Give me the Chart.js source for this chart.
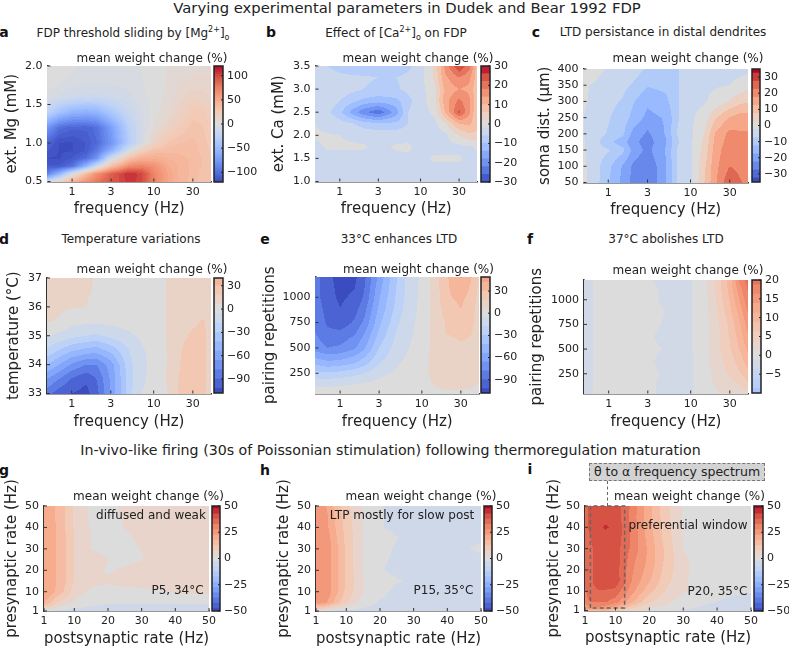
<!DOCTYPE html>
<html lang="en">
<head>
  <meta charset="UTF-8" />
  <title>Varying experimental parameters in Dudek and Bear 1992 FDP</title>
  <script src="https://cdn.jsdelivr.net/npm/chart.js"></script>
  <style>
    html, body { margin: 0; padding: 0; background: #fff; }
    body { width: 789px; height: 647px; position: relative; overflow: hidden; font-family: 'DejaVu Sans', sans-serif; color: #222; }
    canvas { position: absolute; }
    .t { position: absolute; transform: translate(-50%, -50%); white-space: nowrap; line-height: 1; }
    .letter { font-weight: bold; font-size: 14px; color: #111; }
    .ptitle { font-size: 12px; }
    .cbtitle { font-size: 12px; }
    .note { font-size: 12px; }
    sup, sub { font-size: 8px; line-height: 0; }
    #thetaBox { position: absolute; left: 589px; top: 463px; width: 174px; height: 16px; background: #d3d3d3; border: 1px dashed #777; font-size: 12.5px; text-align: center; line-height: 16px; white-space: nowrap; }
    #thetaLine { position: absolute; left: 607px; top: 481px; height: 25px; border-left: 1.5px dashed #666; }
  </style>
</head>
<body>
  <div class="t" style="left:407px;top:8px;font-size:14.8px">Varying experimental parameters in Dudek and Bear 1992 FDP</div>
  <div class="t" style="left:390.5px;top:450px;font-size:14.2px">In-vivo-like firing (30s of Poissonian stimulation) following thermoregulation maturation</div>

  <div class="t ptitle" style="left:133px;top:33px">FDP threshold sliding by [Mg<sup>2+</sup>]<sub>o</sub></div>
  <div class="t ptitle" style="left:396px;top:33px">Effect of [Ca<sup>2+</sup>]<sub>o</sub> on FDP</div>
  <div class="t ptitle" style="left:663px;top:32px">LTD persistance in distal dendrites</div>
  <div class="t ptitle" style="left:131px;top:239px">Temperature variations</div>
  <div class="t ptitle" style="left:399px;top:239px">33°C enhances LTD</div>
  <div class="t ptitle" style="left:666px;top:239px">37°C abolishes LTD</div>

  <div class="t letter" style="left:4px;top:32px">a</div>
  <div class="t letter" style="left:271px;top:32px">b</div>
  <div class="t letter" style="left:536px;top:32px">c</div>
  <div class="t letter" style="left:4px;top:239px">d</div>
  <div class="t letter" style="left:265px;top:239px">e</div>
  <div class="t letter" style="left:530px;top:239px">f</div>
  <div class="t letter" style="left:4px;top:470px">g</div>
  <div class="t letter" style="left:265px;top:470px">h</div>
  <div class="t letter" style="left:530px;top:469px">i</div>

  <div id="thetaBox">θ to α frequency spectrum</div>
  <div id="thetaLine"></div>

  <script>
    const freqHz = [0.5, 0.7, 1, 1.5, 2, 3, 5, 7, 10, 15, 20, 30, 40, 50];
    const freqTicks = [1, 3, 10, 30];
    const postHz = [1, 2, 3, 5, 7, 10, 15, 20, 25, 30, 35, 40, 45, 50];
    const preHz = [1, 2, 5, 10, 15, 20, 25, 30, 35, 40, 45, 50];
    const rateTicks = [1, 10, 20, 30, 40, 50];

    // panel a
    const mgRows = [0.5, 0.6, 0.7, 0.8, 0.9, 1.0, 1.2, 1.4, 1.6, 1.8, 2.0];
    const mgTicks = [0.5, 1, 1.5, 2];
    const mgCbTicks = [-100, -50, 0, 50, 100];
    const mgValues = [
      [-15, 15, 42, 64, 78, 92, 105, 100, 72, 52, 42, 35, 30, 28],
      [-90, -55, -5, 38, 65, 90, 108, 100, 72, 52, 42, 36, 30, 28],
      [-112, -112, -100, -55, -15, 32, 68, 72, 64, 48, 42, 36, 32, 28],
      [-118, -118, -112, -100, -78, -10, 32, 45, 47, 42, 40, 36, 32, 28],
      [-112, -118, -118, -112, -95, -60, -5, 20, 32, 36, 36, 35, 30, 27],
      [-106, -118, -118, -112, -103, -78, -32, -8, 15, 28, 32, 34, 30, 25],
      [-78, -100, -106, -106, -100, -72, -27, -10, 3, 15, 22, 30, 28, 22],
      [-25, -42, -55, -58, -55, -38, -16, -8, 0, 7, 15, 25, 24, 18],
      [-5, -8, -12, -14, -14, -12, -9, -4, 0, 4, 10, 16, 15, 12],
      [2, -2, -4, -6, -6, -6, -5, -3, 0, 3, 6, 9, 9, 8],
      [3, 1, -2, -3, -4, -4, -4, -2, 0, 3, 5, 6, 6, 6]
    ];

    // panel b
    const caRows = [1, 1.25, 1.5, 1.75, 2, 2.25, 2.5, 2.75, 3, 3.25, 3.5];
    const caTicks = [1, 1.5, 2, 2.5, 3, 3.5];
    const caCbTicks = [-30, -20, -10, 0, 10, 20, 30];
    const caValues = [
      [-3, -3, -3, -3, -3, -3, -3, -3, -3, -3, -3, -3, -3, -3],
      [-3, -3, -3, -3, -3, -3, -3, -3, -3, -3, -3, -3, -3, -3],
      [-3, -3, -3, -3, -3, -3, -3, -2.5, -3, -1.5, -1.5, -1.5, -3, -3],
      [-2.5, -1.7, -1.7, -1.7, -1.7, -3, -1.5, -1.5, -3, -3, -3, -3, -2.5, -1.5],
      [-1.7, -1.7, -2, -2.5, -3, -3.5, -3.5, -3, -3, -3, -3, 2, 5, 5],
      [-2, -3, -4, -6, -8, -9, -9, -6, -3.5, -3, 1, 10, 11, 7],
      [-3, -5, -9, -16.5, -21, -25, -16, -6, -4, -1, 10, 23, 15, 6],
      [-3, -3.5, -6, -9, -11, -12, -11, -7, -4, 1, 12, 19, 15, 7],
      [-3, -3, -3.5, -5, -6, -7, -6.5, -5, -3.5, 1, 11, 14, 13, 7],
      [-3.5, -4, -5, -5.5, -5.5, -6, -6, -5, -3.5, 3, 13, 18, 15, 8],
      [-4, -6, -7.5, -8, -8.5, -9, -8.5, -7, -4, 3, 15, 26, 20, 8]
    ];

    // panel c
    const distRows = [50, 100, 150, 175, 200, 250, 300, 350, 400];
    const distTicks = [50, 100, 150, 200, 250, 300, 350, 400];
    const distCbTicks = [-30, -20, -10, 0, 10, 20, 30];
    const distValues = [
      [-1.5, -5.5, -12, -19, -24, -27, -18, -7, -4, 8, 16.5, 27, 23, 21],
      [-1.5, -5.5, -11, -18, -23.5, -27, -18, -7, -4, 7, 16, 22.5, 21, 20],
      [-2, -5, -7, -11, -19, -24, -17, -7, -3.5, 5, 15, 21, 21, 20],
      [-2, -6, -11, -15.5, -21, -25, -18, -8, -3.5, 4, 14, 20, 20, 19],
      [-2.5, -5, -8, -11.5, -19, -23.5, -17, -7, -3.5, 3, 13, 19, 18, 18],
      [-2.5, -4.5, -7, -10, -14, -19, -17, -8, -3.5, 0, 7, 13, 15, 15],
      [-2, -3.5, -6, -8, -12, -16.5, -14, -8, -4, -3, -1, 3, 6, 7],
      [-2, -3, -5, -6, -8, -12, -11, -8, -4, -3, -3, -2.5, -1, 1],
      [0, -1, -3, -5, -5, -8, -8, -8, -4, -4, -4, -4, -4, -4]
    ];

    // panel d
    const tempRows = [33, 33.5, 34, 34.5, 35, 35.5, 36, 36.5, 37];
    const tempTicks = [33, 34, 35, 36, 37];
    const tempCbTicks = [-90, -60, -30, 0, 30];
    const tempValues = [
      [-85, -97, -102, -106, -95, -65, -22, -6, -3, 6, 19, 25, 19, 16],
      [-66, -78, -92, -100, -90, -64, -24, -8, -3, 8, 18, 24, 19, 16],
      [-42, -54, -68, -78, -78, -60, -22, -9, -3, 7, 17, 25, 20, 15],
      [-20, -30, -40, -46, -48, -38, -18, -8, -2, 7, 16, 25, 20, 15],
      [-4, -9, -14, -18, -20, -15, -8, -4, 0, 7, 14, 20, 20, 15],
      [7, 5, -2, -3, -3, -2, -1, 0, 0, 7, 12, 16, 19, 14],
      [8, 8, 7, 6.2, 2, 0, 0, 0, 0, 7, 12, 13, 13, 13],
      [9, 9, 8, 7, 5, 0, 0, 0, 0, 7, 9, 12, 12, 12],
      [9, 9, 8, 8, 5, 0, 0, 0, 0, 7, 9, 12, 12, 12]
    ];

    // panel e
    const pairRowsE = [50, 100, 150, 250, 350, 500, 650, 750, 900, 1000, 1200];
    const pairTicks = [250, 500, 750, 1000];
    const pairECbTicks = [-90, -60, -30, 0, 30];
    const pairEValues = [
      [0, 0, 0, 0, 0, 0, 0, 0, 0, 1, 2, 2, 1, 1],
      [-5, -4, -3, -2, -2, -1, 0, 0, 0, 5, 8, 7, 6, 4],
      [-10, -10, -9, -7, -5, -3, -1, 0, 0, 9, 9, 9, 8, 6],
      [-26, -28, -26, -22, -18, -9, -4, -2, 0, 12, 10, 10, 9, 7],
      [-45, -50, -48, -42, -34, -19, -7, -3, 0, 12, 11, 11, 10, 7],
      [-72, -78, -76, -68, -55, -30, -12, -6, -1, 12, 12, 16, 14, 8],
      [-78, -87, -87, -80, -66, -40, -16, -8, -2, 12, 18.5, 21, 19, 9],
      [-80, -92, -98, -88, -75, -45, -20, -9, -2, 12, 19, 24, 22, 10],
      [-83, -95, -102, -96, -82, -52, -25, -11, -3, 12, 24, 30.5, 24, 12],
      [-85, -98, -104, -100, -88, -55, -27, -12, -3, 13, 28, 33, 26, 14],
      [-85, -100, -105, -105, -92, -62, -30, -12, -4, 14, 28, 43, 31, 17]
    ];

    // panel f
    const pairRowsF = [50, 150, 250, 375, 500, 625, 750, 875, 1000, 1100, 1200];
    const pairFCbTicks = [-5, 0, 5, 10, 15, 20];
    const pairFValues = [
      [-2, -1, -0.5, -0.5, -0.5, -0.8, -1.8, -2, -1.5, 0, 1, 1.5, 2, 3],
      [-2, -1, -0.5, -0.5, -0.5, -0.8, -1.8, -2, -1.5, 0.2, 1.5, 3, 4, 6],
      [-2, -1, -0.5, -0.5, -0.5, -0.6, -1.6, -2, -1.5, 0.3, 2, 4, 6, 8],
      [-2, -1, -0.5, -0.5, -0.5, -0.9, -2, -2, -1.5, 0.4, 2.2, 5, 7.5, 10],
      [-2, -1, -0.5, -0.5, -0.5, -0.6, -1.4, -2, -1.5, 0.5, 2.5, 6, 9, 12],
      [-2, -1, -0.5, -0.5, -0.5, -0.9, -2, -2, -1.5, 0.5, 2.5, 6.5, 10, 13.5],
      [-2, -1, -0.5, -0.5, -0.5, -0.6, -1.5, -2, -1.5, 0.5, 2.5, 7, 11, 15],
      [-2, -1, -0.5, -0.5, -0.5, -0.6, -1.3, -2, -1.5, 0.5, 3, 8, 12.5, 16.5],
      [-2, -1, -0.5, -0.5, -0.5, -0.7, -1.6, -2, -1.5, 0.5, 3.5, 9, 14, 18],
      [-2, -1, -0.5, -0.5, -0.5, -0.8, -1.6, -2, -1.5, 0.5, 4, 9.5, 15.5, 19],
      [-2, -1, -0.5, -0.5, -0.5, -1, -2, -2, -1.5, 0.5, 4, 10, 17, 20]
    ];

    const ltpCbTicks = [-50, -25, 0, 25, 50];

    // panel g
    const p5Values = [
      [-3, -3, -4, -4, -4, -4, -4, -4, -4, -4, -4, -4, -4, -4],
      [5, 5, 4, 0, -1, -3, -3.5, -4, -4, -4, -4, -4, -4, -4],
      [18, 16, 13, 8, 5, 2, -1, -2, -2, -2, -2, -2, -2, -2],
      [22, 21, 20, 16, 12, 5, 1.5, 1, 1, 1, 2, 3, 3.5, 4],
      [22, 21, 20, 17, 13.5, 7.5, 4, 3, 4.5, 5, 5, 5, 5, 5],
      [22, 21, 20, 17, 13.5, 7.5, 4, 2, 3, 4.5, 5, 5, 5, 5],
      [22, 21, 20, 17, 13.5, 7.5, 4, 2.6, 1.5, 2.3, 4, 5, 5, 5],
      [22, 21, 20, 17, 13.5, 7.5, 2.4, 1.5, 1.5, 2.6, 4, 5, 5, 5],
      [22, 21, 20, 17, 13.5, 7.5, 2.4, 1.5, 1.5, 3.5, 5, 5, 5, 5],
      [22, 21, 20, 17, 13, 7, 2, 1, 2.7, 4.5, 5, 5, 5, 5],
      [22, 21, 20, 16, 13, 6.5, 1.5, 1, 3, 5, 5, 5, 5, 5],
      [22, 21, 20, 16, 13, 6.5, 1.5, 1, 3.5, 5, 5, 5, 5, 5]
    ];

    // panel h
    const p15Values = [
      [-1, -2, -3, -3, -4, -4, -4, -4, -4, -4, -4, -4, -4, -4],
      [8, 8, 7, 4, 2, 0, -3, -4, -4, -4, -4, -4, -4, -4],
      [24, 26, 25, 21, 15, 8, 0, -3, -4, -4, -4, -4, -4, -4],
      [27, 27, 27, 24, 19, 11, 2.4, -1, -4, -4, -4, -4, -4, -4],
      [27, 27, 27, 24, 19, 11.5, 2.4, 1, -2, -3.5, -4, -4, -4, -4],
      [27, 27, 27, 24, 19, 11.5, 2, -2, -4, -4, -4, -4, -4, -4],
      [27, 27, 27, 24, 19, 11.5, 2, -1.5, -3.5, -4, -4, -4, -4, -4],
      [27, 27, 27, 24, 19, 11.5, 2, 0, -3.5, -4, -4, -4, -3, -1.5],
      [26, 27, 26, 23, 18, 11, 2.2, 1, -2.2, -4, -4, -4, -4, -3.5],
      [26, 26, 25, 22, 17, 10.5, 2, -2, -4, -4, -4, -4, -4, -4],
      [26, 26, 25, 22, 16, 10, 2, -2, -4, -4, -4, -4, -4, -4],
      [28, 26, 24, 21, 15, 9, 2, -2.2, -4, -4, -4, -4, -4, -4]
    ];

    // panel i
    const p20Values = [
      [12, 15, 17, 17, 15, 10, 5, 2, -1, -3, -4, -4, -4, -4],
      [22, 24, 26, 26, 24, 18, 8, 2, 0, -2, -3, -4, -5, -5],
      [30, 32, 33, 33, 33, 30, 18, 8, 4, 0, -1.5, -2.5, -4, -5],
      [32, 34, 36, 37, 37, 36, 24, 14, 7, 3, 1, -1, -1.5, -2],
      [33, 36, 37, 41, 41, 41, 27, 18, 9, 3.5, 0, 0, 0, 0],
      [33, 35, 37, 40, 41, 40, 28, 20, 10, 4, 0, 0, 0, 0],
      [33, 35, 37, 41, 41, 41, 29, 21, 11, 3.5, 0, 0, 0, 0],
      [33, 35, 37, 40, 41, 40, 31, 21, 11, 2.4, 0, 0, 0, 0],
      [33, 36, 38, 41, 41, 41, 31, 20, 10, 2, 0, 0, 0, 0],
      [34, 38, 41, 41.5, 43, 41.5, 31, 19, 10, 1.5, 0, 0, 0, 0],
      [34, 38, 41, 41, 41, 41, 30, 19, 9, 1.8, 0, 0, 0, 0],
      [34, 38, 41, 41, 41, 41, 31, 19, 9, 2, 0, 0, 0, 0]
    ];

    // preferential window outline in panel i
    const windowPost = [2.6, 2.6, 12.7, 12.7, 2.6];
    const windowPre = [2.2, 50, 50, 2.2, 2.2];

    const coolwarm = ['#3b4cc0', '#5977e3', '#7b9ff9', '#9ebeff', '#c0d4f5', '#dddcdc', '#f2cbb7', '#f7ac8e', '#ee8468', '#d65244', '#b40426']
      .map(h => [1, 3, 5].map(i => parseInt(h.substr(i, 2), 16)));

    function cmap(n) {
      const t = Math.max(0, Math.min(1, (n + 1) / 2)) * 10;
      const i = Math.min(9, Math.floor(t));
      const f = t - i;
      const c = coolwarm[i].map((v, k) => Math.round(v + (coolwarm[i + 1][k] - v) * f));
      return `rgb(${c[0]},${c[1]},${c[2]})`;
    }

    Chart.defaults.font.family = "'DejaVu Sans', sans-serif";
    Chart.defaults.color = '#222';
    Chart.defaults.animation = false;
    Chart.defaults.responsive = false;
    Chart.defaults.plugins.legend.display = false;
    Chart.defaults.plugins.tooltip.enabled = false;

    function levelColor(p, k) {
      return cmap(k * p.step / p.norm);
    }

    const contourPlugin = p => ({
      id: 'contour',
      beforeDatasetsDraw(chart) {
        const { ctx, chartArea: a, scales: { x, y } } = chart;
        const xp = p.xs.map(v => x.getPixelForValue(v));
        const yp = p.ys.map(v => y.getPixelForValue(v));
        const x0 = Math.floor(a.left), x1 = Math.ceil(a.right);
        const y0 = Math.floor(a.top), y1 = Math.ceil(a.bottom);
        for (let py = y0; py < y1; py++) {
          let j = 0;
          while (j < yp.length - 2 && py + 0.5 < yp[j + 1]) j++;
          const tv = Math.max(0, Math.min(1, (py + 0.5 - yp[j]) / (yp[j + 1] - yp[j])));
          let i = 0, runStart = x0, runLevel = null;
          for (let px = x0; px <= x1; px++) {
            let level = null;
            if (px < x1) {
              while (i < xp.length - 2 && px + 0.5 > xp[i + 1]) i++;
              const tu = Math.max(0, Math.min(1, (px + 0.5 - xp[i]) / (xp[i + 1] - xp[i])));
              const v0 = p.z[j][i] + (p.z[j][i + 1] - p.z[j][i]) * tu;
              const v1 = p.z[j + 1][i] + (p.z[j + 1][i + 1] - p.z[j + 1][i]) * tu;
              level = Math.round((v0 + (v1 - v0) * tv) / p.step);
            }
            if (level !== runLevel) {
              if (runLevel !== null) {
                ctx.fillStyle = levelColor(p, runLevel);
                ctx.fillRect(runStart, py, px - runStart, 1);
              }
              runStart = px;
              runLevel = level;
            }
          }
        }
      },
      afterDatasetsDraw(chart) {
        // short ticks pointing into the plot
        const { ctx, chartArea: a, scales: { x, y } } = chart;
        ctx.save();
        ctx.strokeStyle = '#333';
        ctx.lineWidth = 1;
        ctx.beginPath();
        p.xTicks.forEach(v => { const q = x.getPixelForValue(v); ctx.moveTo(q, a.bottom); ctx.lineTo(q, a.bottom - 3); });
        p.yTicks.forEach(v => { const q = y.getPixelForValue(v); ctx.moveTo(a.left, q); ctx.lineTo(a.left + 3, q); });
        ctx.stroke();
        ctx.restore();
      }
    });

    function addPanel(p) {
      const padTop = 40, padRight = 20;
      const r = p.rect;
      const canvasLeft = p.ylabelX - 9;
      const canvasBottom = p.xlabelY + 9;
      const yW = r.left - canvasLeft, xH = canvasBottom - r.bottom;
      const c = document.createElement('canvas');
      c.width = Math.round(r.right - canvasLeft + padRight);
      c.height = Math.round(canvasBottom - r.top + padTop);
      c.style.left = canvasLeft + 'px';
      c.style.top = (r.top - padTop) + 'px';
      document.body.appendChild(c);

      const datasets = [{
        label: p.name,
        data: p.ys.flatMap((yv, j) => p.xs.map((xv, i) => ({ x: xv, y: yv, v: p.z[j][i] }))),
        pointRadius: 0
      }];
      if (p.outline) {
        datasets.push({
          label: 'preferential window',
          data: p.outline.x.map((v, i) => ({ x: v, y: p.outline.y[i] })),
          showLine: true, borderColor: '#666', borderWidth: 1.5, borderDash: [4, 3], pointRadius: 0, clip: false
        });
      }
      new Chart(c, {
        type: 'scatter',
        data: { datasets },
        plugins: [contourPlugin(p)],
        options: {
          layout: { padding: { top: padTop, right: padRight, left: 0, bottom: 0 } },
          scales: {
            x: {
              type: p.xType, min: p.xs[0], max: p.xs[p.xs.length - 1],
              grid: { display: false, drawTicks: false },
              border: { display: true, color: '#333', width: 1.5 },
              ticks: { autoSkip: false, maxRotation: 0, padding: 4, font: { size: 11 }, callback: v => String(v) },
              title: { display: true, text: p.xlabel, font: { size: 15 }, padding: 0 },
              afterBuildTicks: s => { s.ticks = p.xTicks.map(v => ({ value: v })); },
              afterFit: s => { s.height = xH; }
            },
            y: {
              min: p.ys[0], max: p.ys[p.ys.length - 1],
              grid: { display: false, drawTicks: false },
              border: { display: true, color: '#333', width: 1.5 },
              ticks: { autoSkip: false, padding: 5, font: { size: 11 }, callback: v => v.toFixed(p.yDigits) },
              title: { display: true, text: p.ylabel, font: { size: 15 }, padding: 0 },
              afterBuildTicks: s => { s.ticks = p.yTicks.map(v => ({ value: v })); },
              afterFit: s => { s.width = yW; }
            }
          }
        }
      });
      addColorbar(p);
      addText(p.cbTitleX, p.cbTitleY, 'mean weight change (%)', 'cbtitle');
    }

    const cbFrame = {
      id: 'cbFrame',
      afterDatasetsDraw(chart) {
        const { ctx, chartArea: a, scales: { y } } = chart;
        ctx.save();
        ctx.strokeStyle = '#222';
        ctx.lineWidth = 1.5;
        ctx.strokeRect(a.left, a.top, a.right - a.left, a.bottom - a.top);
        ctx.lineWidth = 1;
        ctx.beginPath();
        y.ticks.forEach(t => { const q = y.getPixelForValue(t.value); ctx.moveTo(a.right - 2, q); ctx.lineTo(a.right, q); });
        ctx.stroke();
        ctx.restore();
      }
    };

    function addColorbar(p) {
      const pad = 12, axisW = 38;
      const r = p.rect, cb = p.cb;
      const c = document.createElement('canvas');
      c.width = Math.round(cb.right - cb.left + axisW + 2);
      c.height = Math.round(r.bottom - r.top + 2 * pad);
      c.style.left = (cb.left - 1) + 'px';
      c.style.top = (r.top - pad) + 'px';
      document.body.appendChild(c);

      const bands = [];
      const kMin = Math.round(p.vmin / p.step), kMax = Math.round(p.vmax / p.step);
      for (let k = kMin; k <= kMax; k++) {
        bands.push({
          label: String(k * p.step),
          data: [[Math.max(p.vmin, (k - 0.5) * p.step), Math.min(p.vmax, (k + 0.5) * p.step)]],
          backgroundColor: levelColor(p, k),
          borderWidth: 0, barPercentage: 1, categoryPercentage: 1, grouped: false
        });
      }
      new Chart(c, {
        type: 'bar',
        data: { labels: [''], datasets: bands },
        plugins: [cbFrame],
        options: {
          layout: { padding: { top: pad, bottom: pad, left: 1, right: 1 } },
          scales: {
            x: { display: false },
            y: {
              position: 'right', min: p.vmin, max: p.vmax,
              grid: { display: false, drawTicks: false },
              border: { display: false },
              ticks: { autoSkip: false, padding: 4, font: { size: 11 }, callback: v => String(v).replace('-', '\u2212') },
              afterBuildTicks: s => { s.ticks = p.cbTicks.map(v => ({ value: v })); },
              afterFit: s => { s.width = axisW; }
            }
          }
        }
      });
    }

    function addText(x, y, text, cls) {
      const d = document.createElement('div');
      d.className = 't ' + cls;
      d.style.left = x + 'px';
      d.style.top = y + 'px';
      d.textContent = text;
      document.body.appendChild(d);
    }

    const freqPanel = { xs: freqHz, xType: 'logarithmic', xTicks: freqTicks, xlabel: 'frequency (Hz)' };
    const ratePanel = { xs: postHz, ys: preHz, xType: 'linear', xTicks: rateTicks, xlabel: 'postsynaptic rate (Hz)', yTicks: rateTicks, ylabel: 'presynaptic rate (Hz)', yDigits: 0, vmin: -50, vmax: 50, norm: 50, step: 5, cbTicks: ltpCbTicks };

    addPanel({ ...freqPanel, name: 'a', ys: mgRows, z: mgValues, yTicks: mgTicks, yDigits: 1, ylabel: 'ext. Mg (mM)', vmin: -120, vmax: 120, norm: 120, step: 5, cbTicks: mgCbTicks,
      rect: { left: 47, right: 210.5, top: 66, bottom: 181.5 }, cb: { left: 214, right: 222.5 }, ylabelX: 11.5, xlabelY: 209, cbTitleX: 152, cbTitleY: 58 });
    addPanel({ ...freqPanel, name: 'b', ys: caRows, z: caValues, yTicks: caTicks, yDigits: 1, ylabel: 'ext. Ca (mM)', vmin: -30, vmax: 30, norm: 30, step: 4, cbTicks: caCbTicks,
      rect: { left: 315.5, right: 477, top: 66, bottom: 181.5 }, cb: { left: 480.5, right: 489 }, ylabelX: 279, xlabelY: 209, cbTitleX: 418, cbTitleY: 58 });
    addPanel({ ...freqPanel, name: 'c', ys: distRows, z: distValues, yTicks: distTicks, yDigits: 0, ylabel: 'soma dist. (µm)', vmin: -35, vmax: 35, norm: 35, step: 5, cbTicks: distCbTicks,
      rect: { left: 583.5, right: 747.5, top: 68.5, bottom: 181.5 }, cb: { left: 751.5, right: 759.5 }, ylabelX: 545, xlabelY: 209, cbTitleX: 688, cbTitleY: 58 });
    addPanel({ ...freqPanel, name: 'd', ys: tempRows, z: tempValues, yTicks: tempTicks, yDigits: 0, ylabel: 'temperature (°C)', vmin: -108, vmax: 40, norm: 108, step: 12, cbTicks: tempCbTicks,
      rect: { left: 47, right: 210.5, top: 277.5, bottom: 392.5 }, cb: { left: 214, right: 222.5 }, ylabelX: 14, xlabelY: 421, cbTitleX: 152, cbTitleY: 269 });
    addPanel({ ...freqPanel, name: 'e', ys: pairRowsE, z: pairEValues, yTicks: pairTicks, yDigits: 0, ylabel: 'pairing repetitions', vmin: -108, vmax: 49, norm: 108, step: 12, cbTicks: pairECbTicks,
      rect: { left: 315, right: 478.5, top: 276.5, bottom: 392.5 }, cb: { left: 481, right: 489.5 }, ylabelX: 269.5, xlabelY: 421, cbTitleX: 418.5, cbTitleY: 269 });
    addPanel({ ...freqPanel, name: 'f', ys: pairRowsF, z: pairFValues, yTicks: pairTicks, yDigits: 0, ylabel: 'pairing repetitions', vmin: -10, vmax: 20, norm: 30, step: 2.5, cbTicks: pairFCbTicks,
      rect: { left: 583.5, right: 747.5, top: 279.5, bottom: 392.5 }, cb: { left: 751.5, right: 760 }, ylabelX: 536.5, xlabelY: 421, cbTitleX: 688, cbTitleY: 269.5 });
    addPanel({ ...ratePanel, name: 'g', z: p5Values,
      rect: { left: 43.5, right: 208.5, top: 505.5, bottom: 610 }, cb: { left: 212, right: 220 }, ylabelX: 11.5, xlabelY: 638, cbTitleX: 148.5, cbTitleY: 496 });
    addPanel({ ...ratePanel, name: 'h', z: p15Values,
      rect: { left: 315.5, right: 480.5, top: 505.5, bottom: 610 }, cb: { left: 484, right: 492 }, ylabelX: 283.5, xlabelY: 638, cbTitleX: 421, cbTitleY: 496 });
    addPanel({ ...ratePanel, name: 'i', z: p20Values, outline: { x: windowPost, y: windowPre },
      rect: { left: 584.5, right: 750, top: 506, bottom: 610.5 }, cb: { left: 753.5, right: 762 }, ylabelX: 553.5, xlabelY: 638, cbTitleX: 689.5, cbTitleY: 496 });

    addText(151, 514.5, 'diffused and weak', 'note');
    addText(177.5, 590, 'P5, 34°C', 'note');
    addText(402, 514.5, 'LTP mostly for slow post', 'note');
    addText(443.5, 590, 'P15, 35°C', 'note');
    addText(688, 525, 'preferential window', 'note');
    addText(717.5, 590.5, 'P20, 35°C', 'note');
  </script>
</body>
</html>
